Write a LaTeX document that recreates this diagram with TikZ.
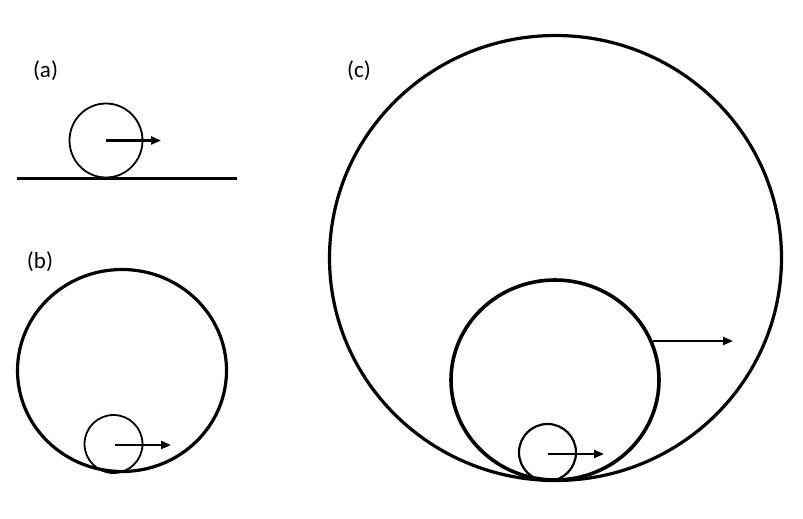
\documentclass[tikz,border=0pt]{standalone}
\usepackage{fontspec}
\setmainfont{Carlito}
\usetikzlibrary{arrows.meta,shapes.geometric}
\tikzset{
  ring/.style={draw=black, ellipse, inner sep=0pt},
  lbl/.style={font=\fontsize{23}{26}\selectfont, inner sep=0pt},
  vel/.style={line width=2.2pt, -{Triangle[length=10pt,width=8pt]}},
}
\begin{document}
\begin{tikzpicture}[x=1pt,y=-1pt]
\useasboundingbox (0,0) rectangle (803,519);
% (a)
\node[lbl] (la) at (45.5,70.5) {(a)};
\node[ring, line width=1.8pt, minimum width=73pt, minimum height=74pt] (ca) at (106,140.5) {};
\coordinate (gl) at (17,178.5);
\coordinate (gr) at (237,178.5);
\draw[line width=2.2pt] (gl) -- (gr);
\coordinate (ea) at (161,140.5);
\draw[vel] (ca.center) -- (ea);
% (b)
\node[lbl] (lb) at (40,262) {(b)};
\node[ring, line width=3.2pt, minimum width=209pt, minimum height=202pt] (Bb) at (122,370.5) {};
\node[ring, line width=1.8pt, minimum width=58pt, minimum height=58pt] (sb) at (113.5,444) {};
\coordinate (sbc) at (115,445);
\coordinate (eb) at (171,445);
\draw[vel] (sbc) -- (eb);
% (c)
\node[lbl] (lc) at (359,71) {(c)};
\node[ring, line width=3.2pt, minimum width=452pt, minimum height=445pt] (Bc) at (555.5,258) {};
\node[ring, line width=3.6pt, minimum width=208pt, minimum height=200pt] (Mc) at (555,380) {};
\node[ring, line width=2.2pt, minimum width=57pt, minimum height=57pt] (sc) at (547.5,452.5) {};
\coordinate (scc) at (548,454);
\coordinate (esc) at (604,454);
\draw[vel] (scc) -- (esc);
\coordinate (mcs) at (653,341);
\coordinate (emc) at (733,341);
\draw[vel] (mcs) -- (emc);
\end{tikzpicture}
\end{document}
